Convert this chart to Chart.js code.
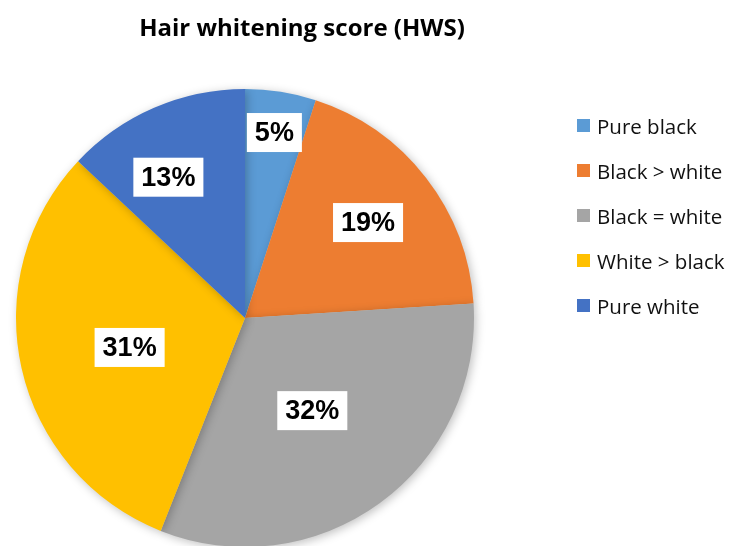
<!DOCTYPE html>
<html>
<head>
<meta charset="utf-8">
<script src="https://cdn.jsdelivr.net/npm/chart.js@4/dist/chart.umd.min.js"></script>
<style>
  html, body { margin: 0; padding: 0; background: #fff; overflow: hidden; }
  #wrap { position: relative; width: 733px; height: 546px; overflow: hidden; }
  #box { position: absolute; left: 0; top: 0; width: 733px; height: 560px; }
  #title { position: absolute; left: 0; width: 604px; top: 10px; text-align: center;
           font: bold 24px "Open Sans", Lato, sans-serif; color: #000; }
  #legend { position: absolute; left: 577px; top: 112px; font: 20.5px "Open Sans", Lato, sans-serif; color: #111; }
  #legend div { height: 45px; display: flex; align-items: flex-start; white-space: nowrap; }
  #legend span.sw { width: 13px; height: 13px; display: inline-block; margin: 7px 7px 0 0; }
</style>
</head>
<body>
<div id="wrap">
  <div id="box"><canvas id="pie"></canvas></div>
  <div id="title">Hair whitening score (HWS)</div>
  <div id="legend"></div>
</div>
<script>
const categories = ["Pure black", "Black > white", "Black = white", "White > black", "Pure white"];
const shares = [5, 19, 32, 31, 13];
const colors = ["#5B9BD5", "#ED7D31", "#A5A5A5", "#FFC000", "#4472C4"];

document.addEventListener("DOMContentLoaded", function () {
    const legend = document.getElementById("legend");
    categories.forEach(function (name, i) {
        const row = document.createElement("div");
        row.innerHTML = '<span class="sw" style="background:' + colors[i] + '"></span>' + name;
        legend.appendChild(row);
    });

    // label spot per slice: fraction of radius and small angle nudge (rad), like Excel's best fit
    const labelRadius = [0.82, 0.68, 0.50, 0.52, 0.70];
    const labelNudge = [0, 0, 0, -0.03, -0.09];

    const shadow = {
        id: "shadow",
        beforeDatasetsDraw(chart) {
            chart.ctx.save();
            chart.ctx.shadowColor = "rgba(0,0,0,0.25)";
            chart.ctx.shadowBlur = 10;
            chart.ctx.shadowOffsetX = 2;
            chart.ctx.shadowOffsetY = 2;
        },
        afterDatasetsDraw(chart) {
            chart.ctx.restore();
        },
    };

    const boxLabels = {
        id: "boxLabels",
        afterDraw(chart) {
            const ctx = chart.ctx;
            const meta = chart.getDatasetMeta(0);
            ctx.save();
            ctx.font = "bold 27px 'Liberation Sans', Arial, sans-serif";
            ctx.textAlign = "center";
            ctx.textBaseline = "middle";
            meta.data.forEach(function (arc, i) {
                const mid = (arc.startAngle + arc.endAngle) / 2 + labelNudge[i];
                const r = arc.outerRadius * labelRadius[i];
                const x = arc.x + Math.cos(mid) * r;
                const y = arc.y + Math.sin(mid) * r;
                const text = shares[i] + "%";
                const w = ctx.measureText(text).width + 16;
                const h = 39;
                ctx.fillStyle = "#fff";
                ctx.fillRect(x - w / 2, y - h / 2, w, h);
                ctx.fillStyle = "#000";
                ctx.fillText(text, x, y + 1);
            });
            ctx.restore();
        },
    };

    new Chart(document.getElementById("pie").getContext("2d"), {
        type: "pie",
        data: {
            labels: categories,
            datasets: [
                {
                    data: shares,
                    backgroundColor: colors,
                    borderWidth: 0,
                },
            ],
        },
        options: {
            responsive: true,
            maintainAspectRatio: false,
            animation: false,
            layout: { padding: { left: 16, right: 259, top: 89, bottom: 13 } },
            plugins: {
                legend: { display: false },
                tooltip: { enabled: false },
                title: { display: false },
            },
        },
        plugins: [shadow, boxLabels],
    });
});
</script>
</body>
</html>
